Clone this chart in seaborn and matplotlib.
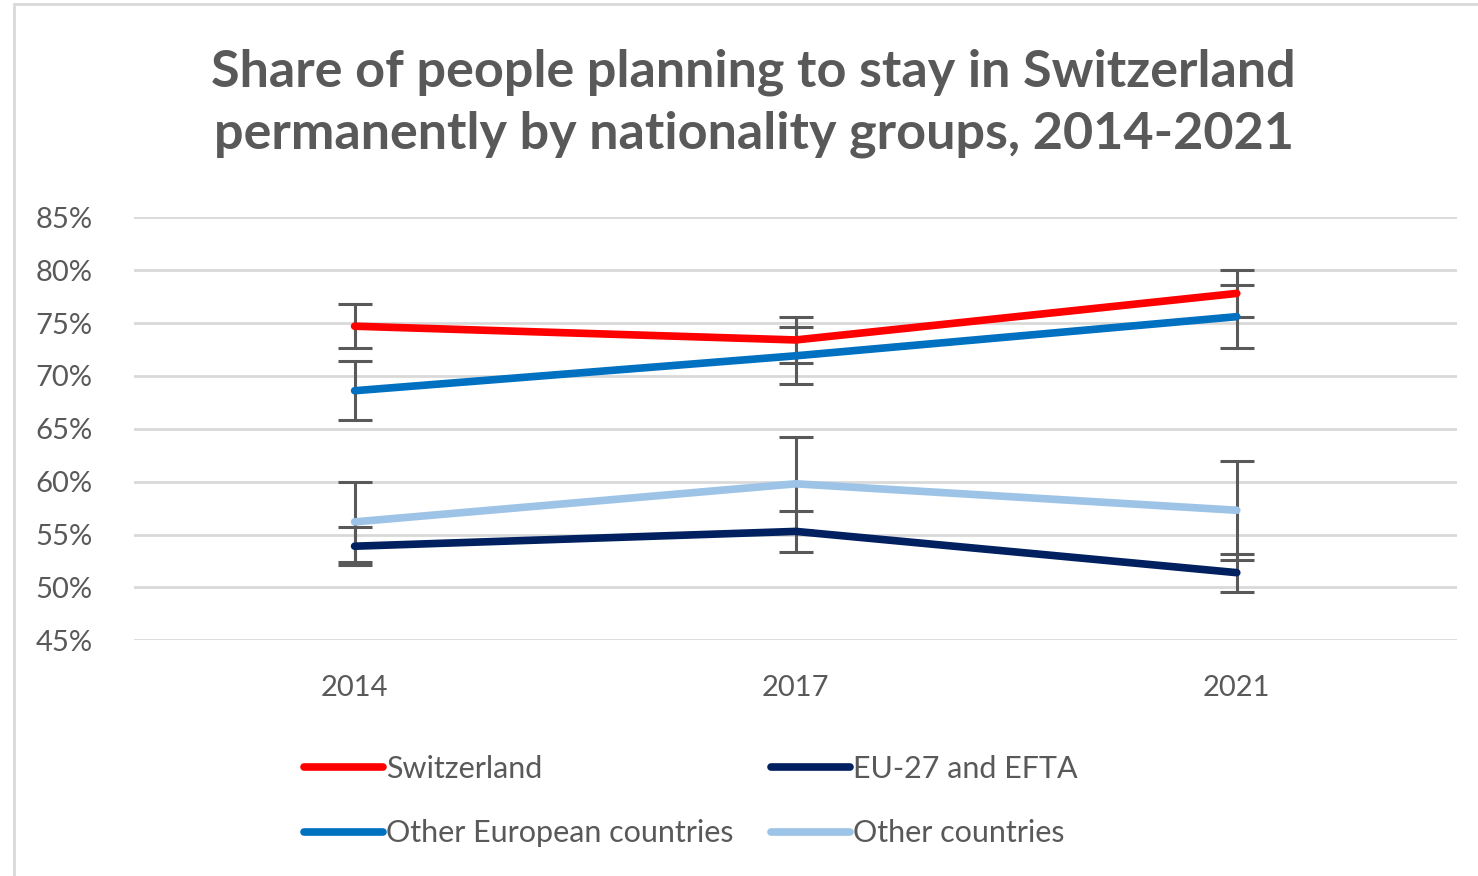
import pandas as pd
import matplotlib.pyplot as plt
import seaborn as sns
from matplotlib.patches import Rectangle
from matplotlib.lines import Line2D

# Data
years = ["2014", "2017", "2021"]
groups = ["Switzerland", "EU-27 and EFTA", "Other European countries", "Other countries"]
switzerland = [74.7, 73.4, 77.8]
eu_efta = [53.9, 55.3, 51.4]
other_europe = [68.6, 71.9, 75.6]
other_countries = [56.2, 59.8, 57.3]
err_switzerland = [2.1, 2.2, 2.2]
err_eu_efta = [1.8, 1.9, 1.8]
err_other_europe = [2.8, 2.7, 3.0]
err_other_countries = [3.8, 4.4, 4.7]

colors = {"Switzerland": "#FF0000", "EU-27 and EFTA": "#002060",
          "Other European countries": "#0070C0", "Other countries": "#9DC3E6"}

values = [switzerland, eu_efta, other_europe, other_countries]
errors = [err_switzerland, err_eu_efta, err_other_europe, err_other_countries]
rows = []
for g, v, e in zip(groups, values, errors):
    for y, val, err in zip(years, v, e):
        rows.append({"Year": y, "Group": g, "Share": val, "Err": err})
df = pd.DataFrame(rows)

sns.set_theme(style="white")
plt.rcParams["font.family"] = ["Lato", "DejaVu Sans"]
text_col = "#595959"

fig = plt.figure(figsize=(14.78, 8.76), dpi=100)
ax = fig.add_axes([0.0907, 0.269, 0.8953, 0.483])

# error bars under the lines
xpos = {y: i for i, y in enumerate(years)}
ax.errorbar(df["Year"].map(xpos), df["Share"], yerr=df["Err"], fmt="none",
            ecolor=text_col, elinewidth=2.2, capsize=12, capthick=2.2, zorder=2)

sns.lineplot(data=df, x="Year", y="Share", hue="Group", palette=colors,
             hue_order=groups, linewidth=5.5, ax=ax, legend=False,
             solid_capstyle="round", zorder=3)

ax.set_ylim(45, 85)
ax.set_xlim(-0.5, 2.5)
ax.set_yticks(range(45, 86, 5))
ax.set_yticklabels([f"{t}%" for t in range(45, 86, 5)])
ax.yaxis.grid(True, color="#D9D9D9", linewidth=2)
ax.set_axisbelow(True)
for s in ax.spines.values():
    s.set_visible(False)
ax.set_xlabel("")
ax.set_ylabel("")
ax.tick_params(axis="both", labelsize=21, colors=text_col, length=0)
ax.tick_params(axis="x", pad=25)
ax.tick_params(axis="y", pad=30)

fig.suptitle("Share of people planning to stay in Switzerland\npermanently by nationality groups, 2014-2021",
             x=0.51, y=0.945, fontsize=37.5, fontweight="bold", color=text_col,
             linespacing=1.4)

order = ["Switzerland", "Other European countries", "EU-27 and EFTA", "Other countries"]
handles = [Line2D([0], [0], color=colors[g], linewidth=5.5, solid_capstyle="round") for g in order]
leg = fig.legend(handles, order, loc="upper left", bbox_to_anchor=(0.187, 0.170),
                 ncol=2, frameon=False, prop={"size": 22}, handlelength=2.6,
                 handletextpad=0.1, columnspacing=1.2, labelspacing=1.2)
for t in leg.get_texts():
    t.set_color(text_col)

fig.patches.append(Rectangle((0.0095, -0.01), 0.995, 1.005, transform=fig.transFigure,
                             fill=False, edgecolor="#D9D9D9", linewidth=2))

fig.savefig("out.png", dpi=100)
